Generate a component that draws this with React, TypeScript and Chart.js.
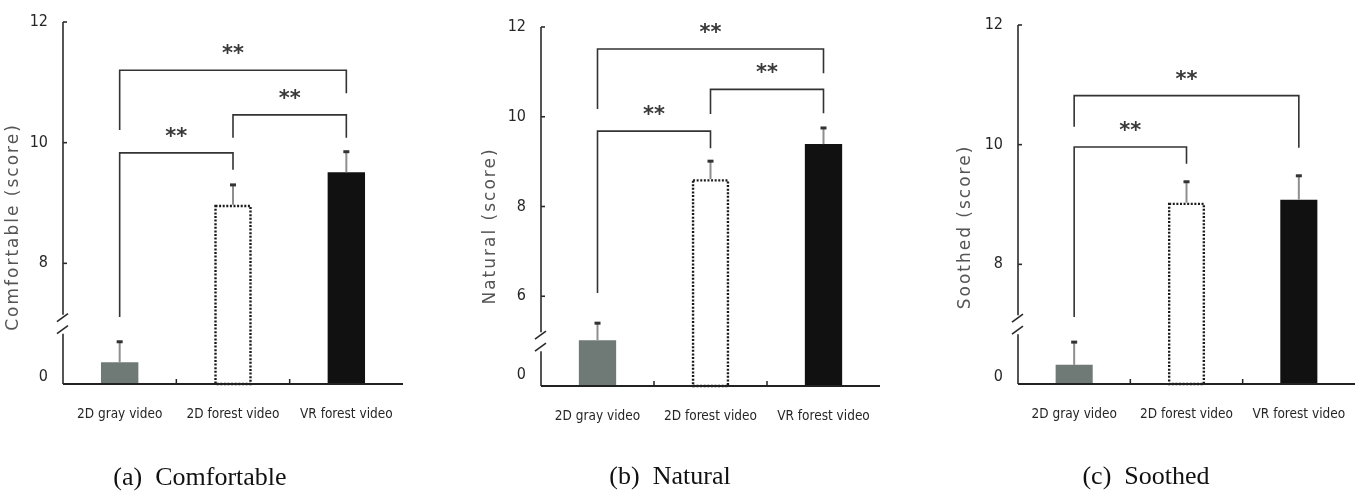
import { useEffect, useRef } from "react";
import { Chart, registerables } from "chart.js";

Chart.register(...registerables);

// Shared categories and bar fills
const categories = ["2D gray video", "2D forest video", "VR forest video"];
const barFills = ["#6f7975", "#ffffff", "#111111"];
const significance = "**";

// Scores are plotted on the broken axis; the lowest tick is labelled "0"
// (a) Comfortable
const comfortableMeans = [6.36, 8.97, 9.51];
const comfortableErrors = [0.34, 0.33, 0.34];
const comfortableTicks = [6.12, 8, 10, 12];
const comfortableTickLabels = ["0", "8", "10", "12"];
const comfortableBrackets = [
  { from: 0, to: 1, level: 9.83, leftEnd: 7.11, rightEnd: 9.55 },
  { from: 1, to: 2, level: 10.46, leftEnd: 10.08, rightEnd: 10.08 },
  { from: 0, to: 2, level: 11.2, leftEnd: 10.21, rightEnd: 10.82 },
];

// (b) Natural
const naturalMeans = [5.02, 8.61, 9.39];
const naturalErrors = [0.38, 0.4, 0.36];
const naturalTicks = [4.24, 6, 8, 10, 12];
const naturalTickLabels = ["0", "6", "8", "10", "12"];
const naturalBrackets = [
  { from: 0, to: 1, level: 9.68, leftEnd: 6.07, rightEnd: 9.3 },
  { from: 1, to: 2, level: 10.61, leftEnd: 10.06, rightEnd: 10.08 },
  { from: 0, to: 2, level: 11.51, leftEnd: 10.17, rightEnd: 10.97 },
];

// (c) Soothed
const soothedMeans = [6.32, 9.03, 9.08];
const soothedErrors = [0.38, 0.35, 0.4];
const soothedTicks = [6.12, 8, 10, 12];
const soothedTickLabels = ["0", "8", "10", "12"];
const soothedBrackets = [
  { from: 0, to: 1, level: 9.96, leftEnd: 7.12, rightEnd: 9.68 },
  { from: 0, to: 2, level: 10.82, leftEnd: 10.3, rightEnd: 9.95 },
];

type Bracket = { from: number; to: number; level: number; leftEnd: number; rightEnd: number };

type PanelSpec = {
  title: string;
  caption: string;
  means: number[];
  errors: number[];
  ticks: number[];
  tickLabels: string[];
  brackets: Bracket[];
  axisMin: number;
  axisMax: number;
  breakAt: number;
  // layout
  offsetX: number;
  area: { left: number; top: number; right: number; bottom: number };
  titleX: number;
  titleY: number;
  captionX: number;
  captionY: number;
};

const PANEL_W = 454;
const PANEL_H = 492;
const Y_AXIS_W = 50;
const X_AXIS_H = 60;

const panels: PanelSpec[] = [
  {
    title: "Comfortable (score)",
    caption: "(a)  Comfortable",
    means: comfortableMeans,
    errors: comfortableErrors,
    ticks: comfortableTicks,
    tickLabels: comfortableTickLabels,
    brackets: comfortableBrackets,
    axisMin: 6,
    axisMax: 12,
    breakAt: 7,
    offsetX: 0,
    area: { left: 63, top: 22, right: 403, bottom: 384 },
    titleX: 14,
    titleY: 227,
    captionX: 200,
    captionY: 485,
  },
  {
    title: "Natural (score)",
    caption: "(b)  Natural",
    means: naturalMeans,
    errors: naturalErrors,
    ticks: naturalTicks,
    tickLabels: naturalTickLabels,
    brackets: naturalBrackets,
    axisMin: 4,
    axisMax: 12,
    breakAt: 5,
    offsetX: 454,
    area: { left: 87, top: 27, right: 426, bottom: 386 },
    titleX: 37,
    titleY: 226,
    captionX: 216,
    captionY: 484,
  },
  {
    title: "Soothed (score)",
    caption: "(c)  Soothed",
    means: soothedMeans,
    errors: soothedErrors,
    ticks: soothedTicks,
    tickLabels: soothedTickLabels,
    brackets: soothedBrackets,
    axisMin: 6,
    axisMax: 12,
    breakAt: 7,
    offsetX: 908,
    area: { left: 110, top: 25, right: 447, bottom: 384 },
    titleX: 58,
    titleY: 227,
    captionX: 238,
    captionY: 484,
  },
];

const NARROW = "'Liberation Sans Narrow', 'DejaVu Sans Condensed', 'Arial Narrow', sans-serif";

function makeDecor(p: PanelSpec) {
  return {
    id: "decor",
    afterDatasetsDraw(chart: any) {
      const { ctx, chartArea } = chart;
      const xs = chart.scales.x;
      const ys = chart.scales.y;
      const meta = chart.getDatasetMeta(0);
      const line = (x1: number, y1: number, x2: number, y2: number) => {
        ctx.beginPath();
        ctx.moveTo(x1, y1);
        ctx.lineTo(x2, y2);
        ctx.stroke();
      };
      const left = chartArea.left;
      const bottom = chartArea.bottom;
      ctx.save();

      // dotted outline of the open bar
      const ob: any = meta.data[1];
      if (ob) {
        const b = ob.getProps(["x", "y", "width"], true);
        const lw = 1.2;
        ctx.setLineDash([2, 1.6]);
        ctx.lineWidth = 2.4;
        ctx.strokeStyle = "#1a1a1a";
        ctx.strokeRect(b.x - b.width / 2 + lw, b.y + lw, b.width - 2 * lw, bottom - b.y - lw);
        ctx.setLineDash([]);
      }

      // error bars (upper half only)
      p.means.forEach((m, i) => {
        const cx = xs.getPixelForValue(i);
        const y0 = ys.getPixelForValue(m);
        const y1 = ys.getPixelForValue(m + p.errors[i]);
        ctx.strokeStyle = "#8f8f8f";
        ctx.lineWidth = 2;
        line(cx, y0, cx, y1);
        ctx.fillStyle = "#333333";
        ctx.fillRect(cx - 3, y1 - 1.5, 6, 3);
      });

      // y axis with break
      const yb = ys.getPixelForValue(p.breakAt);
      ctx.strokeStyle = "#2b2b2b";
      ctx.lineWidth = 1.6;
      line(left, ys.getPixelForValue(p.axisMax), left, yb - 9);
      line(left, yb + 10, left, bottom);
      line(left - 6, yb - 2, left + 5, yb - 10);
      line(left - 6, yb + 10, left + 5, yb + 2);
      p.ticks.forEach((t, i) => {
        if (i === 0) return;
        const ty = ys.getPixelForValue(t);
        line(left, ty, left + 4, ty);
      });

      // x axis with category separators
      ctx.lineWidth = 2;
      ctx.strokeStyle = "#222222";
      line(left, bottom, chartArea.right, bottom);
      ctx.lineWidth = 1.5;
      for (let i = 0; i < categories.length - 1; i++) {
        const bx = (xs.getPixelForValue(i) + xs.getPixelForValue(i + 1)) / 2;
        line(bx, bottom, bx, bottom - 5);
      }

      // significance brackets
      ctx.strokeStyle = "#333333";
      ctx.lineWidth = 1.6;
      ctx.font = "bold 21px 'DejaVu Sans', sans-serif";
      ctx.fillStyle = "#3a3a3a";
      ctx.textAlign = "center";
      ctx.textBaseline = "alphabetic";
      const tm = ctx.measureText(significance);
      const midShift = (tm.actualBoundingBoxAscent - tm.actualBoundingBoxDescent) / 2;
      p.brackets.forEach((br) => {
        const xl = xs.getPixelForValue(br.from);
        const xr = xs.getPixelForValue(br.to);
        const yl = ys.getPixelForValue(br.level);
        ctx.beginPath();
        ctx.moveTo(xl, ys.getPixelForValue(br.leftEnd));
        ctx.lineTo(xl, yl);
        ctx.lineTo(xr, yl);
        ctx.lineTo(xr, ys.getPixelForValue(br.rightEnd));
        ctx.stroke();
        ctx.fillText(significance, (xl + xr) / 2, yl - 21 + midShift);
      });

      // rotated axis title
      ctx.save();
      ctx.translate(p.titleX, p.titleY);
      ctx.rotate(-Math.PI / 2);
      ctx.font = "17px 'DejaVu Sans', sans-serif";
      (ctx as any).letterSpacing = "2px";
      ctx.textAlign = "center";
      ctx.textBaseline = "middle";
      ctx.fillStyle = "#555555";
      ctx.fillText(p.title, 0, 0);
      ctx.restore();

      // panel caption
      ctx.font = "26px 'Liberation Serif', 'Times New Roman', serif";
      ctx.fillStyle = "#111111";
      ctx.textAlign = "center";
      ctx.textBaseline = "alphabetic";
      ctx.fillText(p.caption, p.captionX, p.captionY);

      ctx.restore();
    },
  };
}

function Panel({ spec }: { spec: PanelSpec }) {
  const ref = useRef<HTMLCanvasElement | null>(null);

  useEffect(() => {
    if (!ref.current) return;
    const a = spec.area;
    const chart = new Chart(ref.current, {
      type: "bar",
      data: {
        labels: categories,
        datasets: [
          {
            data: spec.means,
            base: spec.axisMin,
            backgroundColor: barFills,
            borderWidth: 0,
            barPercentage: 0.33,
            categoryPercentage: 1,
          },
        ],
      },
      options: {
        animation: false,
        responsive: false,
        devicePixelRatio: 1,
        layout: {
          padding: {
            left: a.left - Y_AXIS_W,
            top: a.top,
            right: PANEL_W - a.right,
            bottom: PANEL_H - a.bottom - X_AXIS_H,
          },
        },
        plugins: {
          legend: { display: false },
          tooltip: { enabled: false },
        },
        scales: {
          x: {
            type: "category",
            grid: { display: false, drawTicks: false },
            border: { display: false },
            ticks: {
              font: { family: NARROW, size: 13.5 },
              color: "#262626",
              padding: 22,
              maxRotation: 0,
              autoSkip: false,
            },
            afterFit: (s: any) => {
              s.height = X_AXIS_H;
              s.paddingLeft = 0;
              s.paddingRight = 0;
            },
          },
          y: {
            type: "linear",
            min: spec.axisMin,
            max: spec.axisMax,
            grid: { display: false, drawTicks: false },
            border: { display: false },
            afterBuildTicks: (s: any) => {
              s.ticks = spec.ticks.map((v) => ({ value: v }));
            },
            ticks: {
              font: { family: NARROW, size: 16 },
              color: "#262626",
              padding: 15,
              callback: (_v: any, i: number) => spec.tickLabels[i],
            },
            afterFit: (s: any) => {
              s.width = Y_AXIS_W;
              s.paddingTop = 0;
              s.paddingBottom = 0;
            },
          },
        },
      } as any,
      plugins: [makeDecor(spec)],
    });
    return () => chart.destroy();
  }, [spec]);

  return (
    <canvas
      ref={ref}
      width={PANEL_W}
      height={PANEL_H}
      style={{ position: "absolute", left: spec.offsetX, top: 0, width: PANEL_W, height: PANEL_H }}
    />
  );
}

export default function App() {
  return (
    <div
      style={{
        position: "absolute",
        left: 0,
        top: 0,
        width: 1362,
        height: 492,
        background: "#ffffff",
        overflow: "hidden",
      }}
    >
      {panels.map((p) => (
        <Panel key={p.caption} spec={p} />
      ))}
    </div>
  );
}
